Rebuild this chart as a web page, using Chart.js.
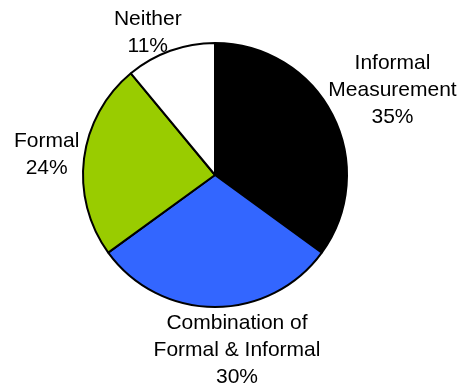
<!DOCTYPE html>
<html>
<head>
<meta charset="utf-8">
<script src="https://cdn.jsdelivr.net/npm/chart.js@4/dist/chart.umd.min.js"></script>
<style>
  html, body { margin: 0; padding: 0; background: #fff; }
  #wrap { width: 460px; height: 383px; }
</style>
</head>
<body>
<div id="wrap"><canvas id="grafico"></canvas></div>
<script>
const categorias = [
  ["Informal", "Measurement"],
  ["Combination of", "Formal & Informal"],
  ["Formal"],
  ["Neither"],
];
const valores = [35, 30, 24, 11];
const colores = ["#000000", "#3366ff", "#99cc00", "#ffffff"];

// etiquetas fuera del pastel: nombre + porcentaje, al estilo de Excel
const etiquetas_fuera = {
  id: "etiquetas_fuera",
  afterDatasetsDraw(chart, args, opts) {
    const ctx = chart.ctx;
    const meta = chart.getDatasetMeta(0);
    const total = valores.reduce((a, b) => a + b, 0);
    ctx.save();
    ctx.font = opts.font;
    ctx.fillStyle = "#000";
    ctx.textAlign = "center";
    ctx.textBaseline = "middle";
    meta.data.forEach((arc, i) => {
      const p = arc.getProps(["x", "y", "startAngle", "endAngle", "outerRadius"], true);
      const mid = (p.startAngle + p.endAngle) / 2;
      const ux = Math.cos(mid);
      const uy = Math.sin(mid);
      const lineas = categorias[i].concat([Math.round((valores[i] / total) * 100) + "%"]);
      const w = Math.max(...lineas.map((t) => ctx.measureText(t).width));
      const h = lineas.length * opts.lineHeight;
      const r = p.outerRadius + opts.gap;
      const d = opts.nudge[i] || [0, 0];
      const cx = p.x + ux * r + ux * w / 2 + d[0];
      const cy = p.y + uy * r + uy * h / 2 + d[1];
      lineas.forEach((t, j) => {
        ctx.fillText(t, cx, cy - h / 2 + opts.lineHeight * (j + 0.5));
      });
    });
    ctx.restore();
  },
};

const ctx = document.getElementById("grafico").getContext("2d");
new Chart(ctx, {
  type: "pie",
  data: {
    labels: categorias.map((c) => c.join(" ")),
    datasets: [
      {
        data: valores,
        backgroundColor: colores,
        borderColor: "#000",
        borderWidth: 2,
      },
    ],
  },
  options: {
    responsive: true,
    maintainAspectRatio: false,
    animation: false,
    radius: 132,
    layout: { padding: { left: 0, right: 30, top: 0, bottom: 33 } },
    plugins: {
      legend: { display: false },
      tooltip: { enabled: false },
      etiquetas_fuera: {
        font: "21px 'Liberation Sans', Arial, sans-serif",
        lineHeight: 27,
        gap: 3,
        nudge: [[0, -5], [22, 0], [-2, 0], [-10, 10]],
      },
    },
  },
  plugins: [etiquetas_fuera],
});
</script>
</body>
</html>
